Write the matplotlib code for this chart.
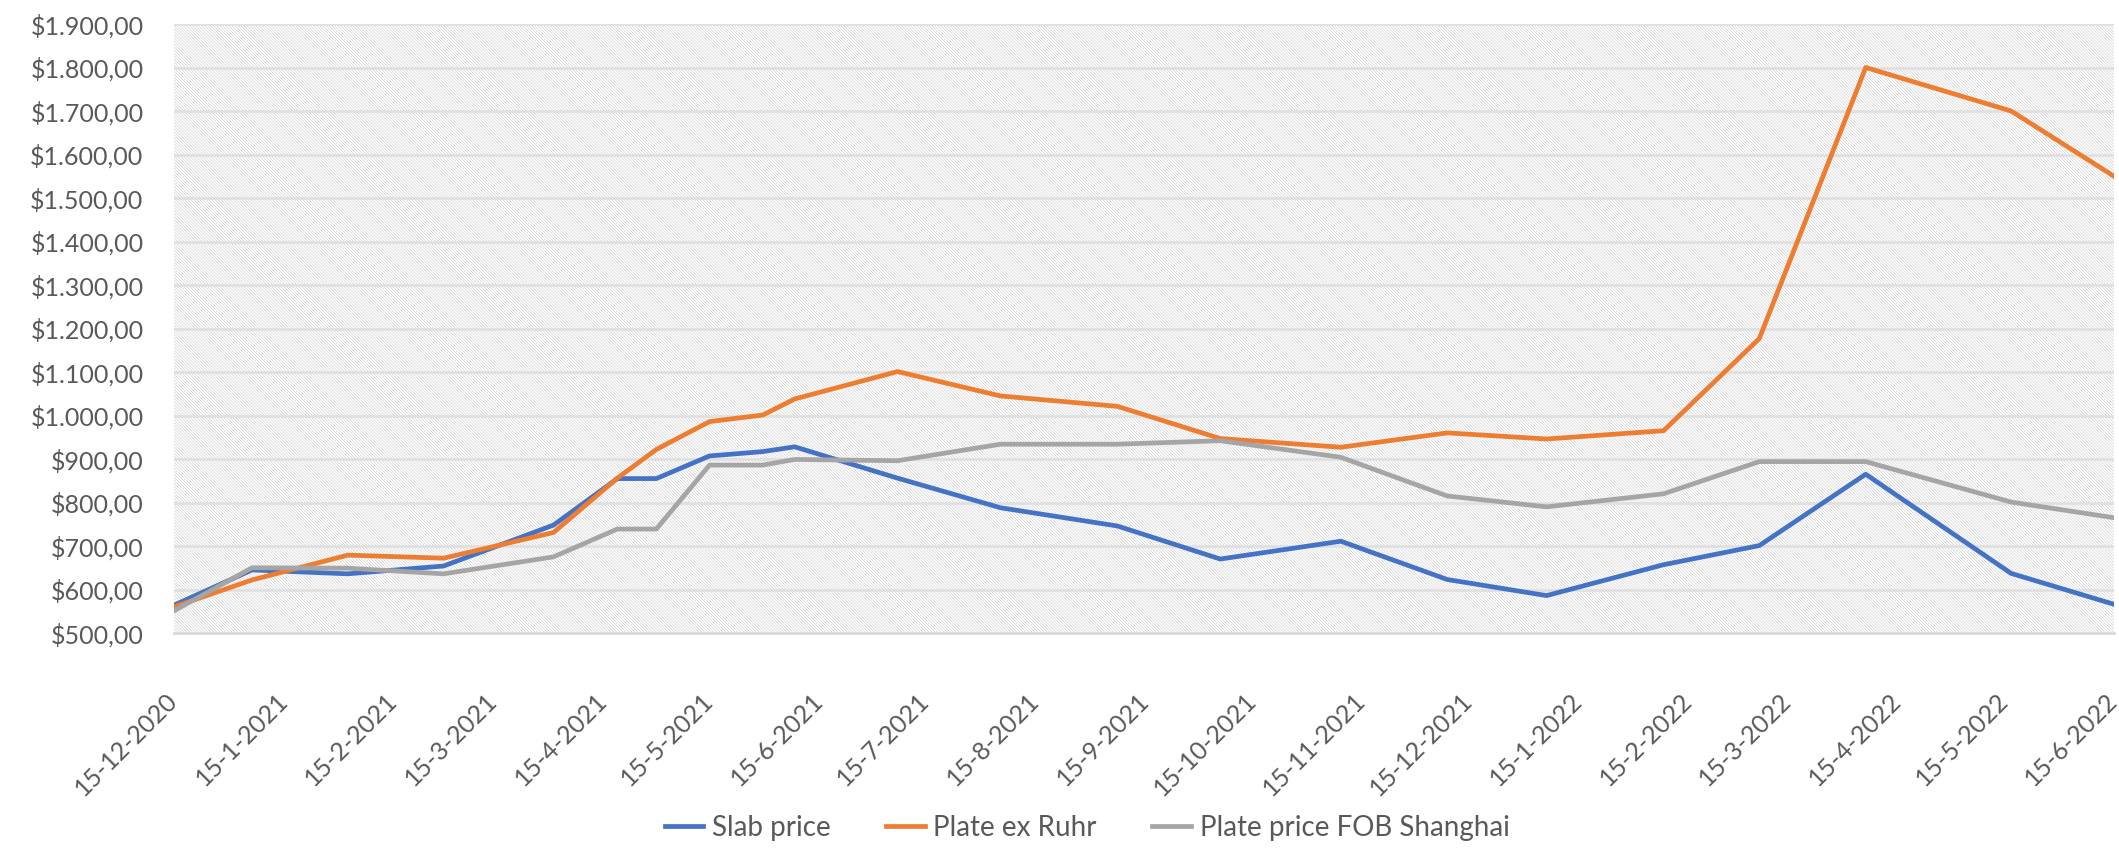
import matplotlib
matplotlib.use('Agg')
from matplotlib import pyplot as plt
from matplotlib.patches import Rectangle
import matplotlib.dates as mdates
import matplotlib.ticker as mticker
import pandas as pd

# data
dates = ['2020-12-15', '2021-01-06', '2021-02-02', '2021-03-01', '2021-04-01',
         '2021-04-19', '2021-04-30', '2021-05-15', '2021-05-30', '2021-06-08',
         '2021-07-07', '2021-08-05', '2021-09-07', '2021-10-06', '2021-11-09',
         '2021-12-09', '2022-01-06', '2022-02-08', '2022-03-07', '2022-04-06',
         '2022-05-17', '2022-06-15']
slab_price = [564, 645, 636, 654, 748, 855, 855, 907, 917, 928, 856,
              788, 746, 670, 711, 623, 586, 657, 701, 865, 637, 566]
plate_ruhr = [560, 622, 679, 672, 731, 856, 922, 986, 1001, 1038, 1101,
              1045, 1021, 947, 927, 960, 946, 965, 1177, 1800, 1700, 1550]
plate_shanghai = [551, 650, 649, 636, 675, 739, 739, 886, 886, 899, 896,
                  934, 934, 942, 904, 815, 790, 820, 894, 894, 801, 765]
series_names = ['Slab price', 'Plate ex Ruhr', 'Plate price FOB Shanghai']
tick_dates = pd.date_range('2020-12-01', '2022-06-01', freq='MS') + pd.Timedelta(days=14)

colors = ['#4472C4', '#ED7D31', '#A5A5A5']
txt = '#595959'
grid = '#D9D9D9'

plt.rcParams['font.family'] = ['Lato', 'DejaVu Sans']
plt.rcParams['hatch.color'] = '#C8C8C8'
plt.rcParams['hatch.linewidth'] = 0.4

x = pd.to_datetime(dates)

fig = plt.figure(figsize=(21.19, 8.48), dpi=100)
ax = fig.add_axes([174 / 2119, 1 - 633 / 848, 1940 / 2119, 609 / 848])

# hatched plot background
ax.add_patch(Rectangle((0, 0), 1, 1, transform=ax.transAxes, facecolor='white',
                       edgecolor='#C8C8C8', hatch='\\' * 11, lw=0, zorder=0))

for vals, c, name in zip([slab_price, plate_ruhr, plate_shanghai], colors, series_names):
    ax.plot(x, vals, color=c, lw=3.4, label=name, zorder=3, solid_joinstyle='round')

ax.set_ylim(500, 1900)
ax.set_xlim(pd.Timestamp('2020-12-15'), pd.Timestamp('2022-06-15'))
ax.yaxis.set_major_locator(mticker.MultipleLocator(100))


def money(v, pos):
    s = '{:,.2f}'.format(v)
    s = s.replace(',', 'X').replace('.', ',').replace('X', '.')
    return '$' + s


ax.yaxis.set_major_formatter(mticker.FuncFormatter(money))
ax.set_xticks(tick_dates)
ax.xaxis.set_major_formatter(mdates.DateFormatter('%d-%-m-%Y'))
ax.grid(axis='y', color='#E0E0E0', lw=2, zorder=1)
ax.set_axisbelow(False)
for s in ['left', 'right', 'top']:
    ax.spines[s].set_visible(False)
ax.spines['bottom'].set_color(grid)
ax.spines['bottom'].set_linewidth(2)
ax.spines['bottom'].set_zorder(2)
ax.tick_params(axis='both', length=0, colors=txt, labelsize=18)
ax.tick_params(axis='y', pad=22)
ax.tick_params(axis='x', pad=46)
for lab in ax.get_xticklabels():
    lab.set_rotation(45)
    lab.set_ha('right')
    lab.set_va('center')
    lab.set_rotation_mode('anchor')

fig.legend(loc='center', bbox_to_anchor=(0.513, 0.024), ncol=3, frameon=False,
           fontsize=20, labelcolor=txt, handlelength=1.4, handletextpad=0.3,
           columnspacing=2.0)

fig.savefig('out.png', dpi=100)
